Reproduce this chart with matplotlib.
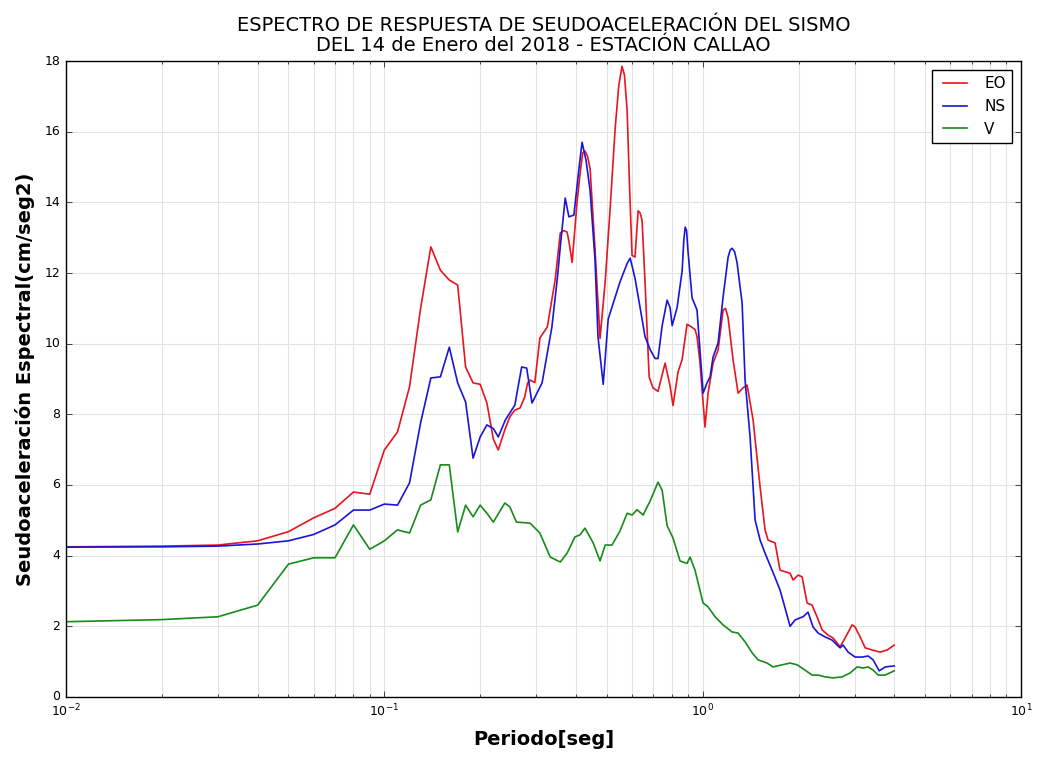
import matplotlib
matplotlib.use("Agg")
import matplotlib.pyplot as plt

# ---- data ----
t_eo = [0.01, 0.02, 0.03, 0.04, 0.05, 0.06, 0.07, 0.08, 0.09, 0.10, 0.11, 0.12, 0.13, 0.14,
        0.15, 0.16, 0.17, 0.18, 0.19, 0.20, 0.21, 0.22, 0.228, 0.239, 0.248, 0.257, 0.267,
        0.276, 0.282, 0.287, 0.297, 0.308, 0.325, 0.344, 0.357, 0.366, 0.375, 0.38, 0.389,
        0.403, 0.413, 0.42, 0.427, 0.435, 0.443, 0.459, 0.476, 0.494, 0.512, 0.531, 0.545,
        0.558, 0.568, 0.579, 0.59, 0.60, 0.613, 0.627, 0.636, 0.645, 0.659, 0.679, 0.698,
        0.724, 0.762, 0.79, 0.807, 0.837, 0.862, 0.893, 0.913, 0.946, 0.96, 0.98, 1.017,
        1.04, 1.078, 1.118, 1.159, 1.18, 1.202, 1.246, 1.292, 1.339, 1.379, 1.44, 1.515,
        1.57, 1.605, 1.688, 1.75, 1.882, 1.923, 1.994, 2.053, 2.128, 2.206, 2.287, 2.372,
        2.477, 2.568, 2.702, 2.802, 2.947, 3.012, 3.123, 3.239, 3.407, 3.61, 3.798, 3.995]
eo = [4.25, 4.27, 4.30, 4.42, 4.68, 5.07, 5.34, 5.80, 5.74, 6.99, 7.50, 8.78, 11.0, 12.74,
      12.08, 11.80, 11.66, 9.34, 8.89, 8.85, 8.32, 7.30, 6.99, 7.56, 7.93, 8.12, 8.18,
      8.49, 8.89, 8.97, 8.90, 10.16, 10.47, 11.8, 13.13, 13.2, 13.16, 12.9, 12.3,
      14.0, 14.9, 15.4, 15.45, 15.3, 14.95, 12.68, 10.15, 11.75, 13.82, 16.09, 17.3,
      17.85, 17.6, 16.6, 14.3, 12.5, 12.45, 13.76, 13.7, 13.5, 11.75, 9.06, 8.75,
      8.65, 9.45, 8.8, 8.25, 9.2, 9.55, 10.55, 10.5, 10.4, 10.2, 9.5, 7.64,
      8.6, 9.45, 9.82, 10.95, 11.0, 10.73, 9.54, 8.6, 8.75, 8.83, 7.84, 5.94,
      4.73, 4.44, 4.36, 3.59, 3.5, 3.31, 3.45, 3.4, 2.66, 2.6, 2.27, 1.9,
      1.75, 1.67, 1.42, 1.67, 2.04, 1.98, 1.7, 1.39, 1.33, 1.27, 1.33, 1.47]

t_ns = [0.01, 0.02, 0.03, 0.04, 0.05, 0.06, 0.07, 0.08, 0.09, 0.10, 0.11, 0.12, 0.13, 0.14,
        0.15, 0.16, 0.17, 0.18, 0.19, 0.20, 0.21, 0.22, 0.228, 0.24, 0.257, 0.27, 0.28,
        0.291, 0.313, 0.336, 0.35, 0.357, 0.37, 0.38, 0.394, 0.408, 0.418, 0.43, 0.443,
        0.459, 0.469, 0.487, 0.505, 0.523, 0.55, 0.579, 0.592, 0.613, 0.636, 0.659, 0.684,
        0.709, 0.724, 0.746, 0.773, 0.79, 0.802, 0.831, 0.862, 0.872, 0.881, 0.89, 0.90,
        0.926, 0.96, 1.003, 1.032, 1.055, 1.078, 1.118, 1.159, 1.202, 1.22, 1.237, 1.26,
        1.282, 1.33, 1.359, 1.409, 1.461, 1.515, 1.57, 1.652, 1.75, 1.882, 1.951, 2.023,
        2.067, 2.143, 2.222, 2.304, 2.424, 2.55, 2.644, 2.702, 2.761, 2.863, 3.012, 3.169,
        3.31, 3.432, 3.584, 3.744, 3.995]
ns = [4.24, 4.25, 4.27, 4.33, 4.42, 4.60, 4.87, 5.29, 5.29, 5.46, 5.43, 6.06, 7.76, 9.03,
      9.06, 9.90, 8.89, 8.35, 6.76, 7.36, 7.70, 7.60, 7.36, 7.84, 8.26, 9.34, 9.31,
      8.32, 8.89, 10.47, 11.9, 12.74, 14.12, 13.59, 13.64, 14.9, 15.7, 15.2, 14.33,
      12.37, 10.2, 8.85, 10.7, 11.13, 11.75, 12.27, 12.42, 11.85, 11.02, 10.2, 9.83,
      9.58, 9.58, 10.51, 11.23, 11.02, 10.51, 11.02, 12.06, 12.9, 13.3, 13.2, 12.58,
      11.3, 10.95, 8.6, 8.89, 9.06, 9.62, 10.02, 11.32, 12.45, 12.65, 12.7, 12.6,
      12.3, 11.15, 8.97, 7.36, 5.01, 4.44, 4.07, 3.59, 3.03, 2.0, 2.18, 2.24,
      2.27, 2.4, 1.98, 1.81, 1.7, 1.61, 1.47, 1.39, 1.47, 1.27, 1.13, 1.13,
      1.16, 1.05, 0.74, 0.85, 0.88]

t_v = [0.01, 0.02, 0.03, 0.04, 0.05, 0.06, 0.07, 0.08, 0.09, 0.10, 0.11, 0.12, 0.13, 0.14,
       0.15, 0.16, 0.17, 0.18, 0.19, 0.20, 0.21, 0.22, 0.239, 0.248, 0.26, 0.287, 0.308,
       0.332, 0.357, 0.375, 0.397, 0.412, 0.427, 0.453, 0.476, 0.494, 0.519, 0.55, 0.579,
       0.60, 0.622, 0.65, 0.684, 0.724, 0.746, 0.773, 0.807, 0.849, 0.893, 0.913, 0.946,
       1.003, 1.04, 1.094, 1.159, 1.237, 1.292, 1.359, 1.43, 1.493, 1.593, 1.664, 1.776,
       1.882, 1.98, 2.097, 2.206, 2.304, 2.424, 2.568, 2.742, 2.905, 3.056, 3.192, 3.31,
       3.432, 3.558, 3.744, 3.995]
v = [2.13, 2.19, 2.27, 2.60, 3.76, 3.94, 3.94, 4.87, 4.18, 4.42, 4.73, 4.64, 5.43, 5.58,
     6.57, 6.57, 4.67, 5.43, 5.10, 5.43, 5.20, 4.95, 5.49, 5.38, 4.95, 4.92, 4.64,
     3.96, 3.82, 4.07, 4.53, 4.59, 4.78, 4.36, 3.85, 4.30, 4.30, 4.70, 5.20,
     5.15, 5.30, 5.15, 5.55, 6.08, 5.85, 4.85, 4.50, 3.85, 3.78, 3.96, 3.59,
     2.66, 2.55, 2.27, 2.04, 1.84, 1.81, 1.56, 1.25, 1.05, 0.96, 0.85, 0.91,
     0.96, 0.91, 0.76, 0.62, 0.62, 0.57, 0.54, 0.57, 0.68, 0.85, 0.82, 0.85,
     0.76, 0.62, 0.62, 0.74]

series_labels = ["EO", "NS", "V"]
y_ticks = [0, 2, 4, 6, 8, 10, 12, 14, 16, 18]

# ---- plot ----
plt.style.use("classic")
fig = plt.figure(figsize=(10.39, 7.58), dpi=100, facecolor="white")
ax = fig.add_axes([0.0635, 0.0805, 0.9192, 0.839])
ax.set_facecolor("white")

ax.semilogx(t_eo, eo, color="#e8141e", lw=1.2, label=series_labels[0])
ax.semilogx(t_ns, ns, color="#1a14d8", lw=1.2, label=series_labels[1])
ax.semilogx(t_v, v, color="#188a18", lw=1.2, label=series_labels[2])

ax.set_xlim(0.01, 10)
ax.set_ylim(0, 18)
ax.set_yticks(y_ticks)
ax.grid(True, which="both", color="#e3e3e3", linestyle="-", linewidth=0.8)
ax.set_axisbelow(True)
ax.tick_params(labelsize=9)

ax.set_title("ESPECTRO DE RESPUESTA DE SEUDOACELERACIÓN DEL SISMO\n"
             "DEL 14 de Enero del 2018 - ESTACIÓN CALLAO", fontsize=14, pad=7,
             linespacing=1.1)
ax.set_xlabel("Periodo[seg]", fontsize=14, fontweight="bold", labelpad=8)
ax.set_ylabel("Seudoaceleración Espectral(cm/seg2)", fontsize=14, fontweight="bold",
              labelpad=7)

leg = ax.legend(loc="upper right", fontsize=11, fancybox=False, handlelength=2.2,
                borderaxespad=0.6)
leg.get_frame().set_edgecolor("black")

fig.savefig("out.png", dpi=100, facecolor="white")
